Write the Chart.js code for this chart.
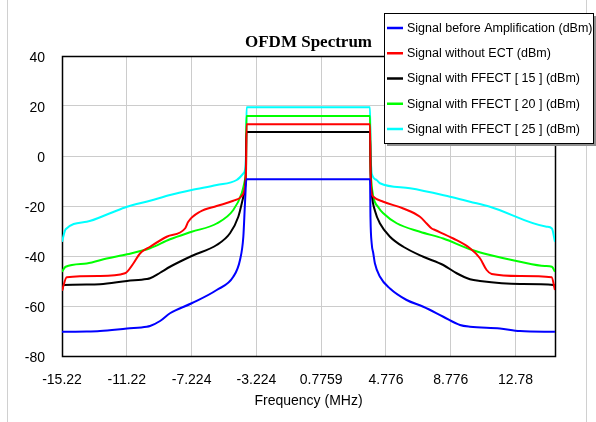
<!DOCTYPE html>
<html>
<head>
<meta charset="utf-8">
<script src="https://cdn.jsdelivr.net/npm/chart.js@4.4.1/dist/chart.umd.min.js"></script>
<style>
html,body{margin:0;padding:0;background:#fff;}
canvas{display:block;}
</style>
</head>
<body>
<canvas id="c" width="596" height="422"></canvas>
<script>
// ---------- DATA ----------
const chartTitle = 'OFDM Spectrum';
const xAxisTitle = 'Frequency (MHz)';
const xTickValues = [-15.224, -11.224, -7.224, -3.224, 0.7759, 4.776, 8.776, 12.776];
const xTickLabels = ['-15.22', '-11.22', '-7.224', '-3.224', '0.7759', '4.776', '8.776', '12.78'];
const yTickValues = [-80, -60, -40, -20, 0, 20, 40];

const seriesNames = [
  'Signal before Amplification (dBm)',
  'Signal without ECT (dBm)',
  'Signal with FFECT [ 15 ] (dBm)',
  'Signal with FFECT [ 20 ] (dBm)',
  'Signal with FFECT [ 25 ] (dBm)'
];

const blueFreq = [-15.224, -13.7, -12.88, -11.21, -9.995, -9.79, -9.17, -8.557, -7.22, -5.675, -4.65, -4.236, -4.03, -3.928, -3.84, 3.79, 3.82, 3.894, 3.992, 4.09, 4.406, 5.023, 6.05, 7.08, 8.313, 9.344, 9.961, 11.81, 13.05, 15.208];
const blueDbm  = [-70.3, -70.2, -70, -69, -68.3, -68, -66, -62.9, -58.9, -53.6, -48.3, -41.6, -32.3, -18.9, -9.3, -9.3, -25, -35, -38.9, -42.9, -48.3, -53, -57.6, -60.3, -64.3, -67.6, -68.3, -69, -70, -70.3];

const redFreq = [-15.224, -14.93, -12.88, -11.335, -10.82, -10.41, -9.79, -8.76, -7.63, -7.43, -6.705, -5.675, -4.65, -4.13, -3.928, -3.86, -3.83, 3.79, 3.82, 3.87, 3.992, 4.61, 5.844, 6.874, 7.288, 7.597, 7.80, 8.93, 9.961, 10.578, 10.99, 11.3, 13.05, 15.0, 15.208];
const redDbm  = [-53.9, -48.5, -48, -46.9, -43, -39, -36.3, -32.3, -29, -26.3, -22.3, -20, -17.9, -16, -12.3, -5, 12.7, 12.7, -5, -14, -16.3, -18.3, -21, -24.3, -27, -29, -29.6, -33, -36.9, -40.9, -45.6, -47.2, -48, -48.5, -53.6];

const blackFreq = [-15.224, -15.15, -13.7, -12.88, -11.21, -9.995, -9.79, -9.17, -8.557, -7.22, -5.675, -4.854, -4.34, -4.03, -3.88, -3.84, 3.79, 3.83, 3.894, 4.1, 4.406, 5.023, 5.844, 7.08, 8.313, 9.14, 9.961, 10.578, 13.05, 15.146, 15.208];
const blackDbm  = [-54, -51.6, -51.4, -51.3, -50, -49.2, -48.9, -46.7, -44.3, -40, -35.6, -30.9, -24.3, -16.3, -8, 9.6, 9.6, -8, -15, -22, -27, -32.3, -36.3, -40.3, -43.6, -46.9, -49.3, -50, -51.2, -51.6, -52.5];

const greenFreq = [-15.224, -15.0, -13.7, -12.465, -11.21, -9.79, -8.557, -7.22, -5.675, -4.65, -4.13, -3.93, -3.86, -3.84, 3.79, 3.82, 3.87, 3.992, 4.3, 4.61, 5.437, 6.874, 8.313, 9.961, 11.195, 13.05, 14.59, 15.02, 15.208];
const greenDbm  = [-46.3, -44.3, -43, -41, -39.3, -36.9, -33.3, -30.3, -27, -21.6, -14.9, -9.6, -3, 16, 16, -3, -10, -16.3, -20.5, -22.9, -26.9, -30.3, -33, -37.3, -39.6, -42.3, -44, -44.3, -46.3];

const cyanFreq = [-15.224, -15.0, -13.7, -12.26, -11.21, -9.79, -8.557, -7.22, -5.675, -4.44, -4.03, -3.93, -3.87, -3.83, 3.79, 3.83, 3.87, 3.894, 4.2, 4.406, 6.257, 8.726, 9.961, 11.195, 14.696, 15.02, 15.208];
const cyanDbm  = [-34.3, -29.3, -26.3, -22.9, -20.3, -17.9, -15.6, -13.6, -11.6, -9.6, -7, -5.6, 0, 19.5, 19.5, 0, -5, -7, -9.6, -10.9, -12.9, -16.3, -18.3, -20.3, -28.3, -29, -34.3];

const seriesFreqs = [blueFreq, redFreq, blackFreq, greenFreq, cyanFreq];
const seriesValues = [blueDbm, redDbm, blackDbm, greenDbm, cyanDbm];

// ---------- STYLE ----------
const seriesColors = ['#0000ff', '#ff0000', '#000000', '#00ff00', '#00ffff'];
const FONT = '"Liberation Sans", Arial, sans-serif';
Chart.defaults.font.family = FONT;
Chart.defaults.color = '#000';

const datasets = seriesNames.map((name, i) => ({
  label: name,
  data: seriesFreqs[i].map((f, j) => ({x: f, y: seriesValues[i][j]})),
  borderColor: seriesColors[i],
  backgroundColor: seriesColors[i],
  borderWidth: 2,
  pointRadius: 0,
  cubicInterpolationMode: 'monotone',
  fill: false
}));

const decor = {
  id: 'decor',
  beforeDraw(chart) {
    const ctx = chart.ctx;
    ctx.save();
    ctx.fillStyle = '#fff';
    ctx.fillRect(0, 0, chart.width, chart.height);
    ctx.strokeStyle = '#d0d0d0';
    ctx.lineWidth = 1;
    ctx.beginPath();
    ctx.moveTo(7.5, 0); ctx.lineTo(7.5, chart.height);
    ctx.moveTo(586.5, 0); ctx.lineTo(586.5, chart.height);
    ctx.stroke();
    ctx.restore();
  },
  beforeDatasetsDraw(chart) {
    const ctx = chart.ctx, a = chart.chartArea;
    ctx.save();
    ctx.strokeStyle = '#000';
    ctx.lineWidth = 1.5;
    ctx.strokeRect(Math.round(a.left) + 0.5, Math.round(a.top) + 0.5, Math.round(a.right - a.left), Math.round(a.bottom - a.top));
    ctx.restore();
  },
  afterDraw(chart) {
    const ctx = chart.ctx, a = chart.chartArea;
    ctx.save();
    // title
    ctx.fillStyle = '#000';
    ctx.font = 'bold 17px "Liberation Serif", "Times New Roman", serif';
    ctx.textAlign = 'center';
    ctx.textBaseline = 'alphabetic';
    ctx.fillText(chartTitle, (a.left + a.right) / 2, 47);
    // legend box
    const bx = 384, by = 13, bw = 209, bh = 130;
    ctx.fillStyle = '#909090';
    ctx.fillRect(bx + 3, by + 3, bw, bh);
    ctx.fillStyle = '#fff';
    ctx.fillRect(bx, by, bw, bh);
    ctx.strokeStyle = '#000';
    ctx.lineWidth = 1;
    ctx.strokeRect(bx + 0.5, by + 0.5, bw, bh);
    ctx.font = '12.5px ' + FONT;
    ctx.textAlign = 'left';
    ctx.textBaseline = 'middle';
    chart.data.datasets.forEach((ds, i) => {
      const y = 28 + i * 25.25;
      ctx.strokeStyle = ds.borderColor;
      ctx.lineWidth = 2.5;
      ctx.beginPath();
      ctx.moveTo(387, y); ctx.lineTo(403, y);
      ctx.stroke();
      ctx.fillStyle = '#000';
      ctx.fillText(ds.label, 407, y + 0.5);
    });
    ctx.restore();
  }
};

new Chart(document.getElementById('c'), {
  type: 'line',
  data: { datasets },
  options: {
    responsive: false,
    animation: false,
    parsing: true,
    layout: { padding: { top: 56, right: 41, left: 0, bottom: 0 } },
    plugins: {
      legend: { display: false },
      title: { display: false },
      tooltip: { enabled: false }
    },
    scales: {
      x: {
        type: 'linear',
        min: -15.224,
        max: 15.21,
        afterBuildTicks(axis) { axis.ticks = xTickValues.map(v => ({value: v})); },
        afterFit(axis) { axis.height = 66; },
        ticks: {
          autoSkip: false,
          maxRotation: 0,
          padding: 16,
          font: { size: 14 },
          color: '#000',
          callback: (v, i) => xTickLabels[i]
        },
        grid: { color: '#cccccc', lineWidth: 1, drawTicks: false },
        border: { display: false },
        title: { display: true, text: xAxisTitle, font: { size: 14 }, color: '#000', padding: { top: 0, bottom: 12 } }
      },
      y: {
        type: 'linear',
        min: -80,
        max: 40,
        afterBuildTicks(axis) { axis.ticks = yTickValues.map(v => ({value: v})); },
        afterFit(axis) { axis.width = 62; },
        ticks: {
          padding: 17,
          labelOffset: 2,
          font: { size: 14 },
          color: '#000',
          callback: v => String(v)
        },
        grid: { color: '#cccccc', lineWidth: 1, drawTicks: false },
        border: { display: false }
      }
    }
  },
  plugins: [decor]
});
</script>
</body>
</html>
